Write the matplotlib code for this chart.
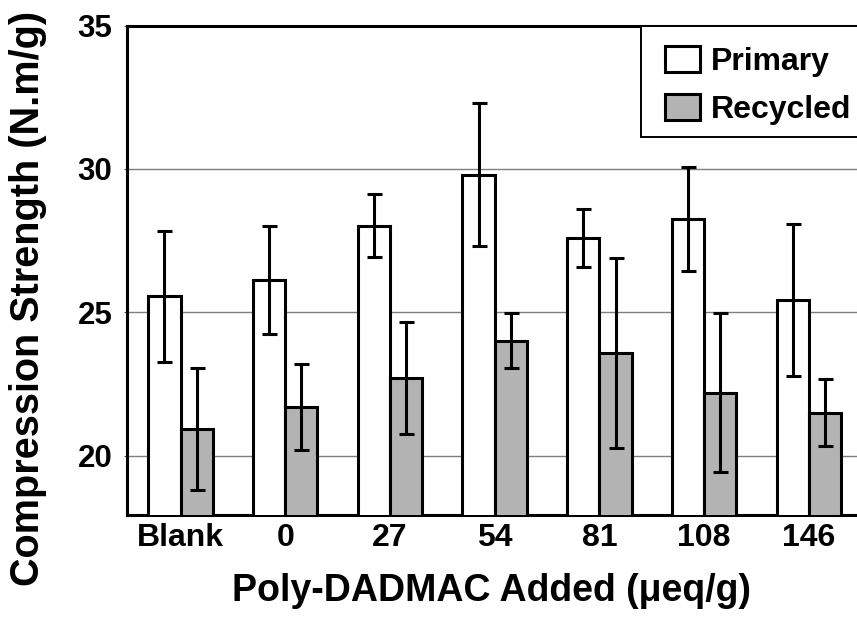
import matplotlib
matplotlib.use('Agg')
from matplotlib import pyplot as plt
from matplotlib.patches import Rectangle, Patch
import numpy as np

plt.rcParams['font.family'] = ['Liberation Sans', 'DejaVu Sans']
plt.rcParams['font.weight'] = 'bold'

# data
categories = ['Blank', '0', '27', '54', '81', '108', '146']
primary = [25.55, 26.13, 28.02, 29.80, 27.59, 28.26, 25.44]
primary_err = [2.30, 1.89, 1.10, 2.50, 1.00, 1.82, 2.65]
recycled = [20.94, 21.68, 22.70, 24.00, 23.58, 22.20, 21.50]
recycled_err = [2.13, 1.50, 1.95, 0.96, 3.30, 2.78, 1.17]
yticks = [20, 25, 30, 35]

W, H = 857, 624
fig = plt.figure(figsize=(W / 100, H / 100), dpi=100)
ax = fig.add_axes([127 / W, (H - 515) / H, (W - 127) / W, (515 - 25.5) / H])

x = np.arange(len(categories))
bw = 0.308
lw = 2.2
err_kw = dict(ecolor='black', elinewidth=lw, capsize=5.4, capthick=lw)

ax.bar(x - bw / 2, primary, bw, yerr=primary_err, color='white',
       edgecolor='black', linewidth=lw, error_kw=err_kw, zorder=3, label='Primary')
ax.bar(x + bw / 2, recycled, bw, yerr=recycled_err, color='#b3b3b3',
       edgecolor='black', linewidth=lw, error_kw=err_kw, zorder=3, label='Recycled')

ax.set_ylim(17.93, 35)
ax.set_xlim(-0.511, 6.46)
ax.set_yticks(yticks)
ax.yaxis.grid(True, color='#7f7f7f', linewidth=1.0, zorder=0)
ax.set_axisbelow(True)

ax.set_xticks(x)
ax.set_xticklabels(categories, fontsize=23, fontweight='bold')
ax.tick_params(axis='x', length=0, pad=6)
ax.tick_params(axis='y', length=2, width=0.8, color='#555555', labelsize=22.5, pad=8.5)
for t in ax.get_yticklabels():
    t.set_fontweight('bold')

for s in ['left', 'bottom', 'top']:
    ax.spines[s].set_linewidth(lw)
ax.spines['right'].set_visible(False)

ax.set_xlabel('Poly-DADMAC Added (μeq/g)', fontsize=27, fontweight='bold', labelpad=14)
ax.set_ylabel('Compression Strength (N.m/g)', fontsize=28.5, fontweight='bold')
ax.yaxis.set_label_coords((47 - 127) / (W - 127), (515 - 298) / (515 - 25.5))

# legend frame
fx0 = (641 - 127) / (W - 127)
fy0 = (515 - 137) / (515 - 25.5)
ax.add_patch(Rectangle((fx0, fy0), 1.2, 1.0 - fy0, transform=ax.transAxes,
                       facecolor='white', edgecolor='black', linewidth=1.4,
                       clip_on=False, zorder=5))
handles = [Patch(facecolor='white', edgecolor='black', linewidth=lw),
           Patch(facecolor='#b3b3b3', edgecolor='black', linewidth=lw)]
leg = ax.legend(handles, ['Primary', 'Recycled'], loc='upper left',
                bbox_to_anchor=((647 - 127) / (W - 127), 1.0 - 3 / 489.5), frameon=False,
                prop={'size': 23, 'weight': 'bold'}, handlelength=1.1,
                handleheight=0.85, handletextpad=0.35, labelspacing=0.55,
                borderaxespad=0.35, borderpad=0.2)
leg.set_zorder(6)

fig.savefig('out.png', dpi=100)
